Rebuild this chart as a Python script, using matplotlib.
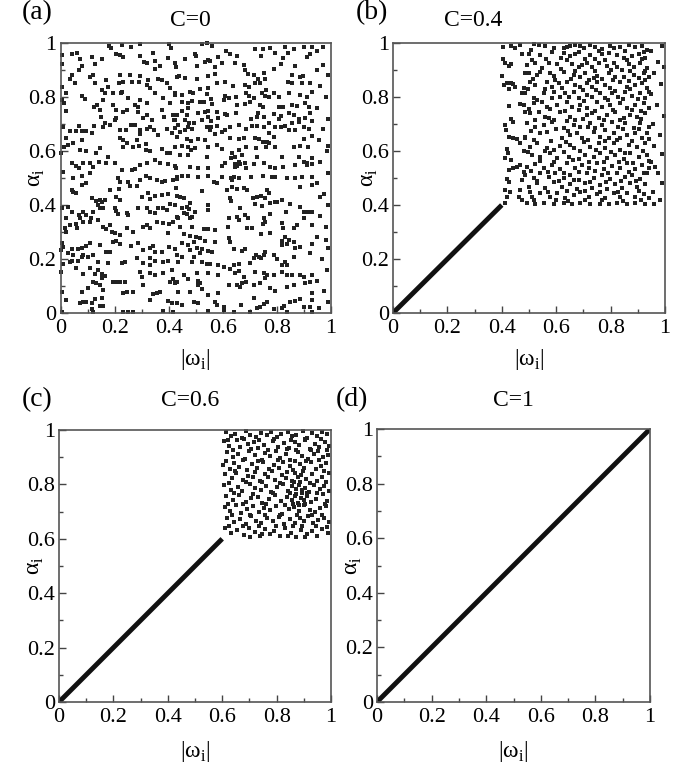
import matplotlib.pyplot as plt
from matplotlib.ticker import MultipleLocator

plt.rcParams['font.family'] = ['Liberation Serif', 'DejaVu Serif']
plt.rcParams['mathtext.fontset'] = 'custom'
plt.rcParams['mathtext.rm'] = 'Liberation Serif'

panel_tags = ['(a)', '(b)', '(c)', '(d)']
c_values = ['0', '0.4', '0.6', '1']
tick_vals = [0, 0.2, 0.4, 0.6, 0.8, 1]
tick_labels = ['0', '0.2', '0.4', '0.6', '0.8', '1']

# oscillators with |w_i| < C sit on alpha_i = |w_i|
diag_ends = [[], [0, 0.4], [0, 0.6], [0, 1]]

# (|w_i|, alpha_i) pairs
pts_a = [
    (0.005, 0.955), (0.004, 0.922), (0.044, 0.959), (0.062, 0.964), (0.072, 0.939), (0.078, 0.915), (0.069, 0.900),
    (0.115, 0.949), (0.127, 0.922), (0.154, 0.939), (0.180, 0.989), (0.188, 0.980), (0.205, 0.959), (0.220, 0.955),
    (0.230, 0.947), (0.227, 0.994), (0.259, 0.986), (0.294, 0.996), (0.294, 0.952), (0.309, 0.931), (0.321, 0.925),
    (0.341, 0.962), (0.351, 0.934), (0.368, 0.915), (0.399, 0.943), (0.407, 0.980), (0.402, 0.996), (0.427, 0.912),
    (0.349, 0.902), (0.041, 0.881), (0.035, 0.865), (0.053, 0.851), (0.121, 0.881), (0.109, 0.875), (0.127, 0.851),
    (0.170, 0.863), (0.177, 0.838), (0.220, 0.881), (0.217, 0.853), (0.230, 0.857), (0.257, 0.881), (0.263, 0.857),
    (0.294, 0.878), (0.291, 0.857), (0.325, 0.863), (0.319, 0.844), (0.362, 0.865), (0.374, 0.863), (0.393, 0.851),
    (0.405, 0.832), (0.430, 0.875), (0.004, 0.838), (0.007, 0.789), (0.022, 0.813), (0.012, 0.779), (0.020, 0.748),
    (0.081, 0.804), (0.090, 0.791), (0.152, 0.826), (0.164, 0.813), (0.158, 0.789), (0.123, 0.764), (0.136, 0.770),
    (0.146, 0.752), (0.195, 0.813), (0.222, 0.813), (0.226, 0.820), (0.251, 0.795), (0.275, 0.770), (0.285, 0.764),
    (0.294, 0.789), (0.319, 0.776), (0.331, 0.832), (0.349, 0.813), (0.380, 0.795), (0.405, 0.776), (0.423, 0.807),
    (0.430, 0.733), (0.195, 0.770), (0.205, 0.752), (0.207, 0.721), (0.200, 0.715), (0.232, 0.746), (0.244, 0.752),
    (0.285, 0.746), (0.319, 0.733), (0.304, 0.721), (0.337, 0.715), (0.374, 0.752), (0.383, 0.727), (0.415, 0.733),
    (0.420, 0.715), (0.010, 0.690), (0.020, 0.650), (0.035, 0.675), (0.059, 0.675), (0.069, 0.692), (0.078, 0.675),
    (0.096, 0.675), (0.115, 0.668), (0.123, 0.692), (0.156, 0.688), (0.164, 0.705), (0.149, 0.725), (0.183, 0.696),
    (0.220, 0.678), (0.242, 0.678), (0.259, 0.696), (0.275, 0.696), (0.294, 0.678), (0.294, 0.663), (0.319, 0.680),
    (0.331, 0.688), (0.346, 0.678), (0.362, 0.659), (0.393, 0.680), (0.411, 0.665), (0.003, 0.591), (0.012, 0.613),
    (0.028, 0.622), (0.047, 0.628), (0.078, 0.641), (0.072, 0.604), (0.096, 0.601), (0.131, 0.591), (0.146, 0.610),
    (0.177, 0.579), (0.220, 0.647), (0.232, 0.641), (0.247, 0.628), (0.232, 0.616), (0.267, 0.616), (0.281, 0.641),
    (0.291, 0.618), (0.316, 0.626), (0.316, 0.604), (0.331, 0.601), (0.374, 0.606), (0.393, 0.594), (0.405, 0.591),
    (0.423, 0.616), (0.044, 0.554), (0.057, 0.544), (0.084, 0.557), (0.069, 0.536), (0.109, 0.557), (0.121, 0.542),
    (0.143, 0.560), (0.170, 0.557), (0.201, 0.554), (0.226, 0.530), (0.263, 0.530), (0.275, 0.532), (0.294, 0.548),
    (0.319, 0.557), (0.349, 0.567), (0.368, 0.557), (0.399, 0.552), (0.427, 0.536), (0.010, 0.523), (0.047, 0.499),
    (0.081, 0.507), (0.109, 0.517), (0.214, 0.499), (0.331, 0.499), (0.316, 0.507),
    (0.523, 0.996), (0.541, 0.999), (0.560, 0.989), (0.498, 0.959), (0.501, 0.952), (0.547, 0.937), (0.554, 0.934),
    (0.582, 0.947), (0.612, 0.971), (0.628, 0.959), (0.652, 0.952), (0.720, 0.976), (0.747, 0.976), (0.776, 0.980),
    (0.794, 0.964), (0.829, 0.986), (0.841, 0.964), (0.862, 0.976), (0.899, 0.984), (0.912, 0.949), (0.924, 0.959),
    (0.930, 0.986), (0.743, 0.952), (0.822, 0.943), (0.459, 0.939), (0.424, 0.927), (0.504, 0.915), (0.535, 0.931),
    (0.570, 0.910), (0.597, 0.925), (0.646, 0.925), (0.677, 0.918), (0.681, 0.900), (0.693, 0.885), (0.714, 0.881),
    (0.730, 0.865), (0.751, 0.888), (0.788, 0.902), (0.817, 0.922), (0.868, 0.915), (0.887, 0.873), (0.896, 0.878),
    (0.856, 0.881), (0.439, 0.878), (0.459, 0.869), (0.504, 0.865), (0.547, 0.878), (0.572, 0.885), (0.578, 0.853),
    (0.609, 0.857), (0.636, 0.841), (0.683, 0.844), (0.696, 0.838), (0.720, 0.853), (0.739, 0.851), (0.755, 0.865),
    (0.841, 0.857), (0.856, 0.851), (0.891, 0.853), (0.924, 0.851), (0.424, 0.813), (0.449, 0.807), (0.480, 0.820),
    (0.488, 0.816), (0.517, 0.828), (0.547, 0.832), (0.541, 0.811), (0.607, 0.804), (0.622, 0.795), (0.603, 0.789),
    (0.649, 0.801), (0.686, 0.813), (0.698, 0.804), (0.714, 0.795), (0.760, 0.826), (0.745, 0.813), (0.788, 0.816),
    (0.772, 0.799), (0.807, 0.799), (0.844, 0.813), (0.887, 0.807), (0.912, 0.801), (0.928, 0.820), (0.449, 0.783),
    (0.471, 0.779), (0.486, 0.786), (0.517, 0.783), (0.529, 0.783), (0.557, 0.791), (0.560, 0.774), (0.652, 0.770),
    (0.681, 0.774), (0.702, 0.783), (0.739, 0.770), (0.755, 0.804), (0.807, 0.764), (0.822, 0.764), (0.856, 0.770),
    (0.875, 0.767), (0.903, 0.779), (0.918, 0.762), (0.449, 0.749), (0.473, 0.758), (0.467, 0.733), (0.510, 0.742),
    (0.535, 0.746), (0.547, 0.749), (0.578, 0.746), (0.609, 0.737), (0.649, 0.742), (0.730, 0.739), (0.726, 0.725),
    (0.747, 0.764), (0.751, 0.727), (0.788, 0.737), (0.817, 0.730), (0.844, 0.739), (0.864, 0.733), (0.881, 0.717),
    (0.903, 0.721), (0.924, 0.739), (0.424, 0.715), (0.436, 0.696), (0.461, 0.715), (0.476, 0.702), (0.492, 0.705),
    (0.523, 0.715), (0.545, 0.725), (0.557, 0.712), (0.584, 0.721), (0.615, 0.733), (0.659, 0.696), (0.705, 0.717),
    (0.726, 0.693), (0.751, 0.688), (0.770, 0.705), (0.794, 0.690), (0.809, 0.717), (0.831, 0.693), (0.854, 0.702),
    (0.883, 0.709), (0.899, 0.688), (0.930, 0.712), (0.424, 0.684), (0.443, 0.671), (0.461, 0.678), (0.471, 0.688),
    (0.486, 0.680), (0.541, 0.688), (0.557, 0.688), (0.578, 0.693), (0.554, 0.678), (0.609, 0.678), (0.628, 0.688),
    (0.686, 0.680), (0.708, 0.693), (0.772, 0.668), (0.817, 0.688), (0.844, 0.678), (0.868, 0.678), (0.918, 0.680),
    (0.430, 0.653), (0.467, 0.643), (0.483, 0.638), (0.510, 0.643), (0.535, 0.641), (0.572, 0.663), (0.597, 0.671),
    (0.628, 0.647), (0.659, 0.643), (0.677, 0.650), (0.718, 0.650), (0.733, 0.643), (0.747, 0.634), (0.764, 0.634),
    (0.788, 0.653), (0.899, 0.643), (0.928, 0.655), (0.449, 0.618), (0.473, 0.616), (0.483, 0.604), (0.498, 0.610),
    (0.547, 0.616), (0.578, 0.622), (0.597, 0.606), (0.634, 0.594), (0.659, 0.604), (0.686, 0.616), (0.723, 0.610),
    (0.760, 0.616), (0.770, 0.631), (0.792, 0.616), (0.862, 0.613), (0.887, 0.618), (0.915, 0.613), (0.443, 0.585),
    (0.473, 0.585), (0.541, 0.579), (0.631, 0.573), (0.646, 0.579), (0.671, 0.585), (0.659, 0.560), (0.646, 0.552),
    (0.652, 0.544), (0.665, 0.552), (0.683, 0.557), (0.726, 0.576), (0.819, 0.579), (0.881, 0.576), (0.899, 0.560),
    (0.912, 0.557), (0.928, 0.573), (0.424, 0.544), (0.480, 0.542), (0.508, 0.536), (0.547, 0.536), (0.597, 0.544),
    (0.609, 0.557), (0.644, 0.539), (0.686, 0.536), (0.714, 0.552), (0.751, 0.557), (0.776, 0.542), (0.794, 0.536),
    (0.822, 0.542), (0.868, 0.548), (0.912, 0.548), (0.930, 0.552), (0.473, 0.507), (0.508, 0.505), (0.547, 0.507),
    (0.597, 0.505), (0.631, 0.499), (0.640, 0.502), (0.659, 0.499), (0.705, 0.505), (0.747, 0.507), (0.794, 0.502),
    (0.838, 0.499), (0.866, 0.499), (0.893, 0.505),
    (0.220, 0.486), (0.251, 0.486), (0.294, 0.492), (0.356, 0.492), (0.374, 0.484), (0.386, 0.489), (0.417, 0.492),
    (0.430, 0.496), (0.041, 0.455), (0.047, 0.447), (0.057, 0.443), (0.081, 0.474), (0.096, 0.480), (0.115, 0.427),
    (0.146, 0.418), (0.152, 0.412), (0.133, 0.415), (0.164, 0.418), (0.183, 0.455), (0.217, 0.459), (0.205, 0.431),
    (0.220, 0.418), (0.257, 0.471), (0.281, 0.471), (0.300, 0.431), (0.325, 0.443), (0.331, 0.422), (0.349, 0.434),
    (0.374, 0.437), (0.399, 0.439), (0.427, 0.464), (0.430, 0.434), (0.004, 0.388), (0.028, 0.394), (0.022, 0.353),
    (0.041, 0.373), (0.069, 0.363), (0.084, 0.373), (0.072, 0.353), (0.096, 0.363), (0.121, 0.373), (0.111, 0.351),
    (0.140, 0.400), (0.146, 0.388), (0.158, 0.390), (0.201, 0.388), (0.207, 0.378), (0.214, 0.365), (0.244, 0.369),
    (0.251, 0.363), (0.288, 0.388), (0.319, 0.388), (0.331, 0.375), (0.349, 0.369), (0.362, 0.390), (0.380, 0.388),
    (0.393, 0.381), (0.405, 0.402), (0.423, 0.400), (0.436, 0.351), (0.016, 0.316), (0.022, 0.299), (0.035, 0.326),
    (0.059, 0.328), (0.062, 0.313), (0.084, 0.338), (0.109, 0.338), (0.140, 0.344), (0.158, 0.320), (0.170, 0.311),
    (0.183, 0.326), (0.189, 0.301), (0.201, 0.295), (0.220, 0.289), (0.244, 0.316), (0.269, 0.301), (0.306, 0.320),
    (0.319, 0.326), (0.331, 0.313), (0.356, 0.338), (0.380, 0.332), (0.402, 0.328), (0.417, 0.336), (0.399, 0.295),
    (0.004, 0.258), (0.010, 0.246), (0.028, 0.221), (0.041, 0.237), (0.047, 0.215), (0.065, 0.237), (0.078, 0.242),
    (0.084, 0.215), (0.096, 0.249), (0.109, 0.258), (0.146, 0.252), (0.170, 0.227), (0.195, 0.264), (0.207, 0.267),
    (0.220, 0.254), (0.259, 0.249), (0.288, 0.258), (0.306, 0.233), (0.331, 0.239), (0.343, 0.249), (0.349, 0.225),
    (0.374, 0.227), (0.402, 0.246), (0.423, 0.237), (0.003, 0.233), (0.010, 0.180), (0.035, 0.188), (0.044, 0.192),
    (0.065, 0.192), (0.078, 0.209), (0.102, 0.209), (0.121, 0.215), (0.140, 0.188), (0.177, 0.184), (0.183, 0.225),
    (0.226, 0.184), (0.238, 0.188), (0.281, 0.205), (0.306, 0.184), (0.331, 0.202), (0.331, 0.178), (0.349, 0.192),
    (0.380, 0.188), (0.399, 0.192), (0.430, 0.215), (0.002, 0.153), (0.059, 0.165), (0.084, 0.143), (0.109, 0.165),
    (0.127, 0.143), (0.140, 0.159), (0.152, 0.143), (0.164, 0.138), (0.195, 0.113), (0.207, 0.113), (0.220, 0.113),
    (0.238, 0.113), (0.294, 0.153), (0.300, 0.134), (0.331, 0.147), (0.349, 0.141), (0.380, 0.147), (0.411, 0.159),
    (0.432, 0.116), (0.417, 0.126), (0.004, 0.076), (0.020, 0.048), (0.081, 0.076), (0.102, 0.091), (0.121, 0.116),
    (0.133, 0.110), (0.152, 0.128), (0.146, 0.104), (0.158, 0.085), (0.232, 0.073), (0.244, 0.076), (0.269, 0.076),
    (0.306, 0.104), (0.343, 0.069), (0.356, 0.073), (0.368, 0.076), (0.405, 0.116), (0.423, 0.110), (0.072, 0.036),
    (0.084, 0.042), (0.096, 0.039), (0.115, 0.036), (0.127, 0.052), (0.152, 0.057), (0.146, 0.027), (0.158, 0.027),
    (0.115, 0.015), (0.121, 0.005), (0.232, 0.005), (0.251, 0.002), (0.269, 0.005), (0.331, 0.048), (0.399, 0.044),
    (0.411, 0.036), (0.430, 0.036), (0.380, 0.007), (0.417, 0.005), (0.004, 0.005),
    (0.430, 0.505), (0.449, 0.509), (0.782, 0.505), (0.930, 0.505), (0.566, 0.484), (0.578, 0.480), (0.634, 0.492),
    (0.634, 0.468), (0.677, 0.464), (0.615, 0.455), (0.652, 0.459), (0.689, 0.455), (0.764, 0.455), (0.770, 0.443),
    (0.887, 0.468), (0.930, 0.474), (0.443, 0.431), (0.455, 0.427), (0.480, 0.406), (0.449, 0.388), (0.467, 0.394),
    (0.476, 0.385), (0.523, 0.452), (0.547, 0.400), (0.545, 0.381), (0.628, 0.427), (0.631, 0.415), (0.710, 0.427),
    (0.726, 0.431), (0.743, 0.434), (0.755, 0.427), (0.745, 0.397), (0.720, 0.402), (0.665, 0.388), (0.776, 0.406),
    (0.792, 0.410), (0.801, 0.412), (0.819, 0.418), (0.850, 0.402), (0.887, 0.394), (0.899, 0.373), (0.915, 0.373),
    (0.930, 0.373), (0.835, 0.373), (0.430, 0.357), (0.455, 0.369), (0.467, 0.365), (0.480, 0.351), (0.486, 0.357),
    (0.498, 0.373), (0.443, 0.320), (0.486, 0.320), (0.529, 0.311), (0.547, 0.311), (0.572, 0.307), (0.622, 0.351),
    (0.619, 0.320), (0.652, 0.357), (0.659, 0.344), (0.683, 0.363), (0.693, 0.353), (0.751, 0.353), (0.757, 0.338),
    (0.747, 0.328), (0.776, 0.365), (0.819, 0.332), (0.822, 0.313), (0.862, 0.316), (0.875, 0.326), (0.899, 0.353),
    (0.930, 0.326), (0.708, 0.316), (0.689, 0.313), (0.455, 0.291), (0.480, 0.286), (0.501, 0.283), (0.517, 0.279),
    (0.535, 0.267), (0.570, 0.264), (0.622, 0.276), (0.449, 0.258), (0.473, 0.252), (0.492, 0.264), (0.504, 0.242),
    (0.523, 0.237), (0.547, 0.230), (0.480, 0.233), (0.449, 0.209), (0.492, 0.209), (0.517, 0.221), (0.560, 0.225),
    (0.640, 0.237), (0.671, 0.230), (0.683, 0.237), (0.628, 0.264), (0.743, 0.291), (0.776, 0.295), (0.831, 0.283),
    (0.819, 0.267), (0.844, 0.270), (0.838, 0.254), (0.862, 0.264), (0.868, 0.239), (0.887, 0.246), (0.930, 0.254),
    (0.819, 0.252), (0.436, 0.190), (0.486, 0.188), (0.523, 0.188), (0.541, 0.180), (0.554, 0.180), (0.584, 0.178),
    (0.603, 0.171), (0.640, 0.178), (0.659, 0.180), (0.702, 0.184), (0.714, 0.205), (0.723, 0.215), (0.733, 0.209),
    (0.751, 0.215), (0.757, 0.227), (0.743, 0.202), (0.788, 0.215), (0.801, 0.200), (0.819, 0.178), (0.831, 0.188),
    (0.862, 0.209), (0.924, 0.221), (0.455, 0.141), (0.473, 0.126), (0.504, 0.150), (0.510, 0.118), (0.547, 0.147),
    (0.584, 0.141), (0.628, 0.163), (0.646, 0.147), (0.659, 0.155), (0.677, 0.134), (0.720, 0.153), (0.751, 0.147),
    (0.764, 0.141), (0.755, 0.131), (0.788, 0.141), (0.819, 0.153), (0.856, 0.141), (0.887, 0.141), (0.899, 0.134),
    (0.930, 0.141), (0.838, 0.178), (0.838, 0.141), (0.436, 0.079), (0.480, 0.076), (0.510, 0.104), (0.517, 0.110),
    (0.523, 0.089), (0.547, 0.067), (0.584, 0.073), (0.622, 0.104), (0.652, 0.104), (0.665, 0.097), (0.671, 0.110),
    (0.686, 0.116), (0.714, 0.104), (0.739, 0.110), (0.776, 0.091), (0.794, 0.081), (0.838, 0.097), (0.862, 0.104),
    (0.905, 0.110), (0.930, 0.073), (0.924, 0.116), (0.449, 0.030), (0.492, 0.039), (0.510, 0.036), (0.572, 0.042),
    (0.578, 0.030), (0.547, 0.007), (0.603, 0.023), (0.603, 0.011), (0.640, 0.005), (0.668, 0.030), (0.702, 0.005),
    (0.714, 0.057), (0.726, 0.020), (0.739, 0.023), (0.751, 0.032), (0.764, 0.039), (0.788, 0.015), (0.819, 0.020),
    (0.825, 0.027), (0.838, 0.002), (0.850, 0.039), (0.866, 0.044), (0.887, 0.052), (0.899, 0.023), (0.924, 0.023),
    (0.930, 0.048), (0.928, 0.002),
    (0.95, 0.97), (0.97, 0.92), (0.99, 0.88), (0.96, 0.84), (0.98, 0.80), (0.95, 0.76), (0.99, 0.72), (0.97, 0.68),
    (0.955, 0.64), (0.985, 0.60), (0.96, 0.56), (0.99, 0.52), (0.95, 0.48), (0.975, 0.44), (0.99, 0.40), (0.96, 0.36),
    (0.98, 0.32), (0.95, 0.28), (0.99, 0.24), (0.965, 0.20), (0.985, 0.16), (0.95, 0.12), (0.975, 0.08), (0.99, 0.04),
    (0.955, 0.02), (0.97, 0.985), (0.99, 0.62), (0.96, 0.43), (0.98, 0.27), (0.95, 0.90),
]

pts_b = [
    (0.403, 0.984), (0.435, 0.989), (0.449, 0.980), (0.468, 0.992), (0.476, 0.959), (0.403, 0.939), (0.413, 0.925),
    (0.425, 0.915), (0.435, 0.922), (0.484, 0.888), (0.402, 0.878), (0.407, 0.844), (0.419, 0.851), (0.435, 0.853),
    (0.443, 0.848), (0.449, 0.836), (0.427, 0.828), (0.480, 0.832), (0.474, 0.813), (0.425, 0.767), (0.468, 0.774),
    (0.480, 0.770), (0.484, 0.746), (0.435, 0.717), (0.440, 0.709), (0.413, 0.696), (0.415, 0.678), (0.425, 0.653),
    (0.440, 0.650), (0.456, 0.643), (0.484, 0.653), (0.468, 0.631), (0.419, 0.606), (0.422, 0.591), (0.480, 0.601),
    (0.413, 0.573), (0.435, 0.567), (0.443, 0.536), (0.456, 0.542), (0.468, 0.548), (0.425, 0.530), (0.480, 0.523),
    (0.484, 0.511), (0.419, 0.495), (0.425, 0.486), (0.476, 0.492), (0.410, 0.455), (0.431, 0.449), (0.468, 0.455),
    (0.462, 0.431), (0.474, 0.418), (0.419, 0.431), (0.413, 0.406),
    (0.517, 0.996), (0.535, 0.992), (0.560, 0.989), (0.627, 0.980), (0.640, 0.984), (0.652, 0.989), (0.670, 0.992),
    (0.689, 0.989), (0.701, 0.980), (0.725, 0.992), (0.744, 0.986), (0.768, 0.976), (0.799, 0.989), (0.811, 0.980),
    (0.836, 0.986), (0.866, 0.992), (0.891, 0.984), (0.915, 0.989), (0.934, 0.974),
    (0.499, 0.959), (0.542, 0.955), (0.584, 0.968), (0.627, 0.962), (0.652, 0.952), (0.670, 0.959), (0.725, 0.955),
    (0.744, 0.939), (0.768, 0.959), (0.793, 0.964), (0.823, 0.955), (0.848, 0.943), (0.879, 0.952), (0.903, 0.959),
    (0.928, 0.943),
    (0.493, 0.918), (0.523, 0.927), (0.572, 0.925), (0.603, 0.922), (0.640, 0.937), (0.658, 0.922), (0.682, 0.912),
    (0.695, 0.918), (0.713, 0.925), (0.731, 0.910), (0.756, 0.925), (0.787, 0.915), (0.811, 0.927), (0.823, 0.912),
    (0.842, 0.900), (0.866, 0.922), (0.885, 0.912), (0.909, 0.925), (0.934, 0.906),
    (0.499, 0.888), (0.529, 0.881), (0.542, 0.894), (0.578, 0.888), (0.591, 0.878), (0.627, 0.894), (0.664, 0.881),
    (0.689, 0.875), (0.707, 0.888), (0.738, 0.869), (0.750, 0.878), (0.768, 0.865), (0.793, 0.888), (0.817, 0.873),
    (0.848, 0.875), (0.885, 0.881), (0.903, 0.869), (0.921, 0.890), (0.940, 0.875),
    (0.505, 0.857), (0.523, 0.844), (0.566, 0.857), (0.584, 0.838), (0.609, 0.853), (0.640, 0.857), (0.670, 0.844),
    (0.689, 0.838), (0.713, 0.851), (0.731, 0.836), (0.750, 0.857), (0.780, 0.844), (0.799, 0.832), (0.836, 0.857),
    (0.860, 0.838), (0.891, 0.844), (0.915, 0.853), (0.934, 0.832),
    (0.486, 0.813), (0.517, 0.795), (0.554, 0.813), (0.591, 0.820), (0.615, 0.801), (0.633, 0.813), (0.664, 0.820),
    (0.682, 0.795), (0.713, 0.807), (0.731, 0.801), (0.762, 0.813), (0.780, 0.795), (0.805, 0.813), (0.829, 0.801),
    (0.854, 0.820), (0.879, 0.804), (0.909, 0.813), (0.928, 0.795),
    (0.517, 0.776), (0.548, 0.783), (0.566, 0.764), (0.603, 0.770), (0.640, 0.783), (0.658, 0.764), (0.689, 0.770),
    (0.713, 0.758), (0.750, 0.783), (0.768, 0.764), (0.799, 0.770), (0.836, 0.776), (0.860, 0.758), (0.891, 0.770),
    (0.921, 0.776), (0.940, 0.758),
    (0.505, 0.739), (0.535, 0.746), (0.560, 0.727), (0.591, 0.715), (0.615, 0.746), (0.652, 0.727), (0.670, 0.715),
    (0.713, 0.733), (0.731, 0.742), (0.756, 0.721), (0.787, 0.733), (0.817, 0.746), (0.836, 0.715), (0.872, 0.733),
    (0.897, 0.727), (0.928, 0.739),
    (0.493, 0.702), (0.523, 0.690), (0.554, 0.696), (0.584, 0.709), (0.627, 0.684), (0.664, 0.696), (0.689, 0.688),
    (0.725, 0.702), (0.744, 0.684), (0.768, 0.696), (0.805, 0.709), (0.829, 0.688), (0.854, 0.702), (0.885, 0.684),
    (0.909, 0.702), (0.940, 0.690),
    (0.486, 0.647), (0.542, 0.665), (0.566, 0.671), (0.621, 0.647), (0.652, 0.659), (0.676, 0.665), (0.695, 0.647),
    (0.738, 0.671), (0.762, 0.653), (0.793, 0.647), (0.811, 0.665), (0.836, 0.647), (0.860, 0.659), (0.891, 0.665),
    (0.915, 0.647), (0.934, 0.665),
    (0.505, 0.616), (0.529, 0.628), (0.566, 0.610), (0.591, 0.604), (0.615, 0.618), (0.652, 0.622), (0.664, 0.610),
    (0.701, 0.634), (0.725, 0.616), (0.756, 0.628), (0.780, 0.610), (0.811, 0.628), (0.836, 0.604), (0.866, 0.622),
    (0.897, 0.616), (0.928, 0.628),
    (0.511, 0.585), (0.542, 0.579), (0.578, 0.591), (0.603, 0.573), (0.646, 0.579), (0.682, 0.569), (0.707, 0.585),
    (0.738, 0.579), (0.762, 0.591), (0.787, 0.573), (0.817, 0.585), (0.848, 0.569), (0.872, 0.591), (0.903, 0.579),
    (0.934, 0.585),
    (0.493, 0.542), (0.523, 0.552), (0.554, 0.536), (0.584, 0.548), (0.615, 0.532), (0.640, 0.554), (0.670, 0.536),
    (0.695, 0.548), (0.719, 0.536), (0.750, 0.554), (0.774, 0.532), (0.805, 0.544), (0.836, 0.536), (0.860, 0.554),
    (0.891, 0.532), (0.915, 0.548), (0.940, 0.536),
    (0.486, 0.511), (0.517, 0.499), (0.542, 0.517), (0.572, 0.505), (0.597, 0.520), (0.627, 0.499), (0.652, 0.511),
    (0.682, 0.492), (0.713, 0.517), (0.738, 0.499), (0.768, 0.511), (0.799, 0.495), (0.823, 0.517), (0.854, 0.502),
    (0.879, 0.511), (0.909, 0.495), (0.934, 0.517),
    (0.499, 0.468), (0.529, 0.480), (0.560, 0.462), (0.591, 0.486), (0.621, 0.468), (0.652, 0.478), (0.676, 0.458),
    (0.707, 0.480), (0.731, 0.462), (0.762, 0.474), (0.787, 0.458), (0.817, 0.478), (0.842, 0.462), (0.872, 0.483),
    (0.897, 0.468), (0.928, 0.478),
    (0.511, 0.431), (0.542, 0.446), (0.578, 0.431), (0.603, 0.443), (0.633, 0.425), (0.664, 0.437), (0.689, 0.449),
    (0.719, 0.431), (0.750, 0.441), (0.780, 0.425), (0.811, 0.443), (0.836, 0.428), (0.860, 0.446), (0.891, 0.431),
    (0.921, 0.441), (0.943, 0.425),
    (0.493, 0.406), (0.523, 0.403), (0.554, 0.409), (0.591, 0.403), (0.627, 0.406), (0.658, 0.402), (0.689, 0.409),
    (0.725, 0.403), (0.762, 0.404), (0.793, 0.402), (0.823, 0.406), (0.860, 0.403), (0.891, 0.409), (0.928, 0.403),
    (0.95, 0.97), (0.975, 0.93), (0.99, 0.99), (0.96, 0.89), (0.985, 0.85), (0.95, 0.81), (0.97, 0.77), (0.995, 0.73),
    (0.955, 0.70), (0.98, 0.66), (0.96, 0.62), (0.99, 0.59), (0.95, 0.56), (0.975, 0.52), (0.99, 0.48), (0.955, 0.45),
    (0.98, 0.42), (0.96, 0.405), (0.995, 0.91), (0.965, 0.54),
    (0.508, 0.975), (0.593, 0.983), (0.683, 0.968), (0.757, 0.970), (0.852, 0.972), (0.921, 0.966),
    (0.512, 0.936), (0.563, 0.941), (0.616, 0.945), (0.705, 0.941), (0.781, 0.938), (0.862, 0.936), (0.917, 0.941),
    (0.548, 0.907), (0.618, 0.903), (0.669, 0.898), (0.741, 0.895), (0.802, 0.899), (0.873, 0.895), (0.927, 0.897),
    (0.515, 0.867), (0.596, 0.862), (0.655, 0.866), (0.722, 0.862), (0.807, 0.864), (0.868, 0.860), (0.925, 0.864),
    (0.497, 0.829), (0.558, 0.828), (0.622, 0.832), (0.697, 0.826), (0.748, 0.826), (0.818, 0.821), (0.872, 0.829),
    (0.943, 0.820), (0.530, 0.790), (0.584, 0.797), (0.648, 0.800), (0.703, 0.784), (0.792, 0.789), (0.846, 0.794),
    (0.902, 0.792), (0.500, 0.757), (0.579, 0.754), (0.631, 0.748), (0.682, 0.752), (0.742, 0.749), (0.809, 0.752),
    (0.877, 0.753), (0.913, 0.748), (0.521, 0.716), (0.574, 0.721), (0.638, 0.712), (0.699, 0.719), (0.776, 0.716),
    (0.851, 0.721), (0.912, 0.717), (0.508, 0.675), (0.598, 0.681), (0.643, 0.675), (0.717, 0.688), (0.780, 0.678),
    (0.847, 0.680), (0.903, 0.681), (0.518, 0.642), (0.582, 0.636), (0.637, 0.635), (0.716, 0.641), (0.781, 0.637),
    (0.825, 0.641), (0.879, 0.637), (0.943, 0.645), (0.497, 0.597), (0.558, 0.600), (0.627, 0.598), (0.688, 0.600),
    (0.748, 0.604), (0.801, 0.597), (0.853, 0.594), (0.918, 0.600), (0.539, 0.563), (0.591, 0.561), (0.662, 0.566),
    (0.722, 0.559), (0.775, 0.558), (0.832, 0.561), (0.883, 0.557), (0.940, 0.562), (0.506, 0.525), (0.569, 0.522),
    (0.628, 0.519), (0.685, 0.524), (0.744, 0.526), (0.791, 0.520), (0.867, 0.524), (0.921, 0.520), (0.530, 0.488),
    (0.611, 0.490), (0.664, 0.493), (0.725, 0.487), (0.782, 0.486), (0.838, 0.489), (0.892, 0.488), (0.505, 0.447),
    (0.570, 0.449), (0.640, 0.451), (0.705, 0.452), (0.762, 0.449), (0.828, 0.450), (0.904, 0.452), (0.518, 0.418),
    (0.600, 0.420), (0.645, 0.416), (0.707, 0.419), (0.767, 0.418), (0.845, 0.416), (0.912, 0.418),
]

pts_c = [
    (0.615, 0.992), (0.632, 0.978), (0.648, 0.985), (0.671, 0.971), (0.689, 0.996), (0.702, 0.982), (0.724, 0.975),
    (0.741, 0.989), (0.763, 0.980), (0.779, 0.994), (0.801, 0.973), (0.818, 0.986), (0.842, 0.991), (0.858, 0.977),
    (0.873, 0.983), (0.896, 0.995), (0.912, 0.972), (0.931, 0.988), (0.947, 0.979), (0.968, 0.993), (0.985, 0.984),
    (0.608, 0.958), (0.626, 0.941), (0.655, 0.962), (0.667, 0.936), (0.694, 0.949), (0.716, 0.955), (0.733, 0.932),
    (0.752, 0.946), (0.785, 0.961), (0.806, 0.939), (0.829, 0.952), (0.847, 0.934), (0.866, 0.957), (0.884, 0.944),
    (0.905, 0.963), (0.921, 0.931), (0.943, 0.948), (0.957, 0.939), (0.979, 0.956), (0.994, 0.942),
    (0.617, 0.918), (0.641, 0.901), (0.659, 0.912), (0.683, 0.895), (0.699, 0.921), (0.721, 0.907), (0.745, 0.891),
    (0.758, 0.916), (0.776, 0.903), (0.797, 0.924), (0.814, 0.897), (0.836, 0.911), (0.851, 0.890), (0.877, 0.919),
    (0.893, 0.905), (0.915, 0.894), (0.936, 0.913), (0.952, 0.922), (0.971, 0.899), (0.988, 0.909),
    (0.604, 0.872), (0.628, 0.858), (0.645, 0.879), (0.663, 0.864), (0.690, 0.852), (0.708, 0.876), (0.727, 0.861),
    (0.749, 0.883), (0.771, 0.855), (0.790, 0.870), (0.810, 0.859), (0.825, 0.881), (0.848, 0.866), (0.862, 0.853),
    (0.887, 0.875), (0.900, 0.862), (0.925, 0.884), (0.944, 0.857), (0.962, 0.869), (0.983, 0.878),
    (0.612, 0.838), (0.637, 0.822), (0.652, 0.843), (0.678, 0.815), (0.696, 0.831), (0.713, 0.826), (0.739, 0.812),
    (0.756, 0.840), (0.768, 0.829), (0.793, 0.818), (0.819, 0.835), (0.833, 0.823), (0.855, 0.814), (0.869, 0.842),
    (0.879, 0.826), (0.891, 0.833), (0.909, 0.819), (0.930, 0.838), (0.948, 0.811), (0.966, 0.829), (0.991, 0.842),
    (0.606, 0.798), (0.631, 0.781), (0.657, 0.792), (0.674, 0.775), (0.701, 0.802), (0.722, 0.786), (0.741, 0.779),
    (0.762, 0.795), (0.781, 0.772), (0.803, 0.789), (0.822, 0.801), (0.843, 0.776), (0.858, 0.793), (0.871, 0.784),
    (0.883, 0.797), (0.894, 0.778), (0.905, 0.788), (0.918, 0.771), (0.937, 0.799), (0.958, 0.782), (0.975, 0.794),
    (0.993, 0.777),
    (0.615, 0.758), (0.639, 0.741), (0.661, 0.762), (0.686, 0.735), (0.705, 0.749), (0.731, 0.755), (0.748, 0.732),
    (0.773, 0.746), (0.795, 0.761), (0.816, 0.738), (0.838, 0.752), (0.856, 0.744), (0.868, 0.759), (0.877, 0.733),
    (0.889, 0.751), (0.899, 0.742), (0.912, 0.757), (0.928, 0.736), (0.946, 0.748), (0.969, 0.763), (0.986, 0.739),
    (0.609, 0.718), (0.627, 0.702), (0.650, 0.723), (0.669, 0.695), (0.693, 0.711), (0.714, 0.720), (0.736, 0.698),
    (0.755, 0.714), (0.777, 0.705), (0.799, 0.722), (0.821, 0.692), (0.845, 0.709), (0.863, 0.716), (0.882, 0.701),
    (0.902, 0.724), (0.921, 0.706), (0.940, 0.697), (0.961, 0.713), (0.981, 0.721),
    (0.618, 0.678), (0.642, 0.661), (0.664, 0.672), (0.688, 0.655), (0.707, 0.683), (0.726, 0.667), (0.744, 0.658),
    (0.766, 0.676), (0.788, 0.664), (0.807, 0.681), (0.828, 0.653), (0.850, 0.671), (0.867, 0.659), (0.885, 0.677),
    (0.899, 0.664), (0.917, 0.682), (0.934, 0.657), (0.953, 0.669), (0.975, 0.675), (0.992, 0.662),
    (0.611, 0.638), (0.633, 0.621), (0.656, 0.632), (0.680, 0.614), (0.698, 0.641), (0.719, 0.626), (0.738, 0.609),
    (0.759, 0.635), (0.774, 0.618), (0.792, 0.629), (0.813, 0.612), (0.831, 0.640), (0.853, 0.623), (0.872, 0.607),
    (0.891, 0.633), (0.910, 0.616), (0.931, 0.628), (0.949, 0.611), (0.967, 0.637), (0.988, 0.622),
    (0.702, 0.608), (0.748, 0.617), (0.842, 0.612), (0.905, 0.606),
    (0.622, 0.965), (0.681, 0.968), (0.735, 0.962), (0.792, 0.967), (0.853, 0.964), (0.906, 0.968), (0.962, 0.966),
    (0.638, 0.927), (0.706, 0.929), (0.767, 0.926), (0.839, 0.930), (0.872, 0.928), (0.927, 0.926), (0.985, 0.927),
    (0.613, 0.886), (0.675, 0.889), (0.733, 0.887), (0.804, 0.888), (0.867, 0.885), (0.908, 0.887), (0.957, 0.888),
    (0.647, 0.849), (0.719, 0.847), (0.782, 0.850), (0.840, 0.846), (0.898, 0.848), (0.975, 0.850),
    (0.625, 0.806), (0.689, 0.809), (0.748, 0.807), (0.811, 0.806), (0.864, 0.808), (0.885, 0.810), (0.923, 0.806),
    (0.982, 0.808), (0.645, 0.768), (0.712, 0.766), (0.787, 0.769), (0.850, 0.767), (0.873, 0.765), (0.895, 0.768),
    (0.913, 0.767), (0.950, 0.769), (0.620, 0.728), (0.678, 0.727), (0.760, 0.729), (0.830, 0.726), (0.862, 0.728),
    (0.881, 0.726), (0.905, 0.729), (0.978, 0.727), (0.637, 0.688), (0.702, 0.686), (0.758, 0.689), (0.812, 0.687),
    (0.874, 0.688), (0.930, 0.686), (0.967, 0.689), (0.626, 0.648), (0.677, 0.646), (0.735, 0.648), (0.798, 0.647),
    (0.860, 0.646), (0.892, 0.648), (0.944, 0.647), (0.985, 0.645),
]

pts_d = []

all_pts = [pts_a, pts_b, pts_c, pts_d]

# axes boxes in pixels: left, top, right, bottom
boxes = [(60.5, 43, 331, 313), (393, 43, 665, 313), (59, 430, 331, 702), (377, 429, 650, 702)]
tag_xy = [(37, 13), (372, 13), (37, 400), (352, 400)]
title_xy = [(190, 20), (473, 20), (190, 401), (513, 401)]

W, H = 684, 770
fig = plt.figure(figsize=(W / 100, H / 100), dpi=100)

for i in range(4):
    l, t, r, b = boxes[i]
    ax = fig.add_axes([l / W, 1 - b / H, (r - l) / W, (b - t) / H])

    if all_pts[i]:
        xs = [p[0] for p in all_pts[i]]
        ys = [p[1] for p in all_pts[i]]
        ax.plot(xs, ys, 's', color='#222222', ms=2.6, mew=0, ls='none', clip_on=False)
    if diag_ends[i]:
        ax.plot(diag_ends[i], diag_ends[i], color='#111111', lw=3.5, solid_capstyle='butt')

    ax.set_xlim(0, 1)
    ax.set_ylim(0, 1)
    ax.set_xticks(tick_vals)
    ax.set_xticklabels(tick_labels)
    ax.set_yticks(tick_vals)
    ax.set_yticklabels(tick_labels)
    ax.xaxis.set_minor_locator(MultipleLocator(0.1))
    ax.yaxis.set_minor_locator(MultipleLocator(0.1))
    ax.tick_params(which='both', direction='in', labelsize=16, color='#444444', width=1.0)
    ax.tick_params(which='major', length=5)
    ax.tick_params(which='minor', length=3)
    ax.tick_params(axis='x', pad=4)
    ax.tick_params(axis='y', pad=3)
    for s in ax.spines.values():
        s.set_color('#555555')
        s.set_linewidth(1.2)

    w_px = r - l
    h_px = b - t
    ax.set_xlabel('|ω$_\\mathrm{i}$|', fontsize=17, va='center')
    ax.xaxis.set_label_coords(0.5, -(46 if i < 2 else 50) / h_px)
    ax.set_ylabel('α$_\\mathrm{i}$', fontsize=17, va='center')
    ax.yaxis.set_label_coords(-24 / w_px, 0.5)

    fig.text(title_xy[i][0] / W, 1 - title_xy[i][1] / H, 'C=' + c_values[i], fontsize=17,
             ha='center', va='center')
    fig.text(tag_xy[i][0] / W, 1 - tag_xy[i][1] / H, panel_tags[i], fontsize=20,
             ha='center', va='center')

fig.savefig('out.png', dpi=100)
